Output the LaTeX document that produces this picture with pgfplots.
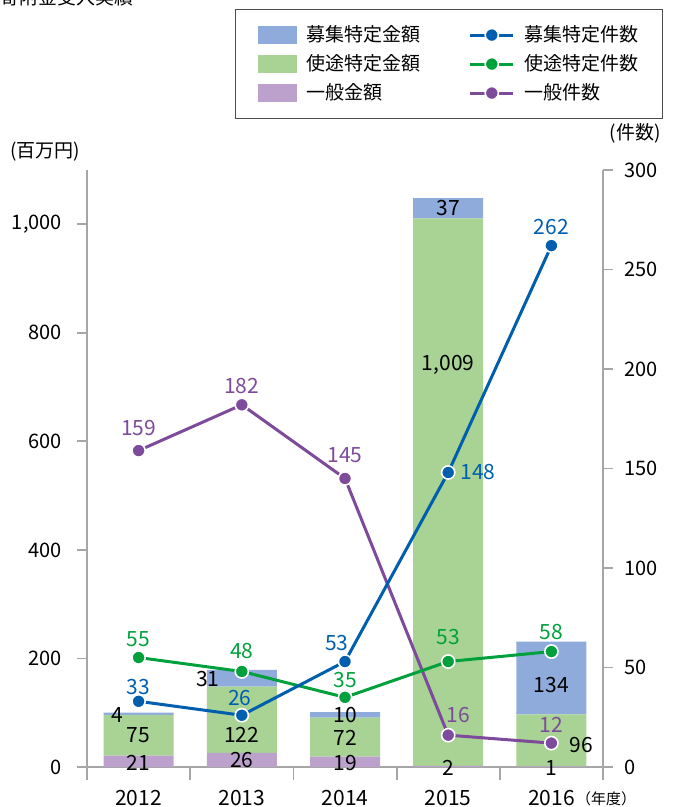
\documentclass[border=0pt]{standalone}
\usepackage{pgfplots}
\pgfplotsset{compat=1.18}
\usepackage{fontspec}
\setmainfont{Noto Sans CJK JP}
\definecolor{barblue}{HTML}{8EABDB}
\definecolor{bargreen}{HTML}{A8D394}
\definecolor{barpurple}{HTML}{BDA1CD}
\definecolor{lblue}{HTML}{005EAF}
\definecolor{lgreen}{HTML}{00A13C}
\definecolor{lpurple}{HTML}{7D4A9C}
\definecolor{axgray}{HTML}{A6A6A6}
\begin{document}
\begin{tikzpicture}[font=\fontsize{9.5}{11}\selectfont]
\useasboundingbox (0,0) rectangle (338pt,403.5pt);
\pgfplotsset{
  base/.style={
    at={(43.5pt,20pt)}, anchor=south west, scale only axis,
    width=258pt, height=298.5pt, xmin=-0.5, xmax=4.5, ymin=0,
    clip=false, tick align=outside,
    axis line style={axgray, line width=0.9pt},
    tick style={axgray, line width=0.9pt},
    major tick length=5pt, minor tick length=6.5pt,
    /pgf/number format/assume math mode=true,
    tick label style={font=\fontsize{10}{12}\selectfont, black},
  },
  lineplot/.style={#1, line width=1.5pt, mark=*, mark size=3.3pt,
    mark options={fill=#1, draw=white, line width=0.8pt}},
}
\begin{axis}[base, ymax=1100,
  axis y line*=left, axis x line*=bottom,
  ybar stacked, bar width=35pt,
  xtick={0,1,2,3,4}, xticklabels={2012,2013,2014,2015,2016},
  xticklabel style={font=\fontsize{10.5}{12}\selectfont, anchor=base, yshift=-14pt},
  major x tick style={draw=none},
  minor xtick={-0.5,0.5,1.5,2.5,3.5,4.5},
  ytick={0,200,...,1000},
  yticklabel style={xshift=-4pt},
]
\addplot[fill=barpurple, draw=none] coordinates {(0,21)(1,26)(2,19)(3,2)(4,1)};
\addplot[fill=bargreen, draw=none] coordinates {(0,75)(1,122)(2,72)(3,1009)(4,96)};
\addplot[fill=barblue, draw=none] coordinates {(0,4)(1,31)(2,10)(3,37)(4,134)};
\end{axis}
\begin{axis}[base, ymax=1100, hide axis]
\begin{scope}[font=\fontsize{10.5}{12}\selectfont]
\node at (axis cs:-0.21,96) {4};
\node at (axis cs:0,59) {75};
\node at (axis cs:0,7) {21};
\node at (axis cs:0.67,162) {31};
\node at (axis cs:1,59) {122};
\node at (axis cs:1,13) {26};
\node at (axis cs:2,96) {10};
\node at (axis cs:2,53) {72};
\node at (axis cs:2,7) {19};
\node at (axis cs:3,1030) {37};
\node at (axis cs:3,741) {1,009};
\node at (axis cs:3,-2) {2};
\node at (axis cs:4,151) {134};
\node at (axis cs:4.29,40.5) {96};
\node at (axis cs:4,-2) {1};
\end{scope}
\end{axis}
\begin{axis}[base, ymax=300,
  axis y line*=right, axis x line=none,
  ytick={0,50,...,300},
  yticklabel style={xshift=2pt},
  legend columns=2, legend cell align=left,
  legend style={at={(axis description cs:0.2868,1.2697)}, anchor=north west,
    draw=black!70, line width=0.6pt, fill=white,
    inner xsep=11pt, inner ysep=7pt, row sep=3pt,
    font=\fontsize{9.5}{11}\selectfont,
    nodes={inner sep=1pt, text depth=0.15em},
    /tikz/every odd column/.append style={column sep=4pt},
    /tikz/every even column/.append style={column sep=23pt},
  },
]
\addlegendimage{legend image code/.code={\fill[barblue] (0pt,-4pt) rectangle (19pt,4pt);}}
\addlegendentry{募集特定金額}
\addlegendimage{lineplot=lblue, legend image code/.code={\draw[mark repeat=2,mark phase=2] plot coordinates {(0pt,0pt)(10.75pt,0pt)(21.5pt,0pt)};}}
\addlegendentry{募集特定件数}
\addlegendimage{legend image code/.code={\fill[bargreen] (0pt,-4pt) rectangle (19pt,4pt);}}
\addlegendentry{使途特定金額}
\addlegendimage{lineplot=lgreen, legend image code/.code={\draw[mark repeat=2,mark phase=2] plot coordinates {(0pt,0pt)(10.75pt,0pt)(21.5pt,0pt)};}}
\addlegendentry{使途特定件数}
\addlegendimage{legend image code/.code={\fill[barpurple] (0pt,-4pt) rectangle (19pt,4pt);}}
\addlegendentry{一般金額}
\addlegendimage{lineplot=lpurple, legend image code/.code={\draw[mark repeat=2,mark phase=2] plot coordinates {(0pt,0pt)(10.75pt,0pt)(21.5pt,0pt)};}}
\addlegendentry{一般件数}
\addplot[lineplot=lpurple, forget plot] coordinates {(0,159)(1,182)(2,145)(3,16)(4,12)};
\addplot[lineplot=lgreen, forget plot] coordinates {(0,55)(1,48)(2,35)(3,53)(4,58)};
\addplot[lineplot=lblue, forget plot] coordinates {(0,33)(1,26)(2,53)(3,148)(4,262)};
\begin{scope}[font=\fontsize{10.5}{12}\selectfont]
\begin{scope}[lblue]
\node at (axis cs:0,40.2) {33};
\node at (axis cs:0.98,34.7) {26};
\node at (axis cs:1.92,62.3) {53};
\node at (axis cs:3.29,148.2) {148};
\node at (axis cs:4,271.4) {262};
\end{scope}
\begin{scope}[lgreen]
\node at (axis cs:0,64.3) {55};
\node at (axis cs:1,58.3) {48};
\node at (axis cs:2,43.7) {35};
\node at (axis cs:3,65.3) {53};
\node at (axis cs:4,67.8) {58};
\end{scope}
\begin{scope}[lpurple]
\node at (axis cs:0,170.4) {159};
\node at (axis cs:1,191.5) {182};
\node at (axis cs:2,156.8) {145};
\node at (axis cs:3.1,26.1) {16};
\node at (axis cs:4,21.1) {12};
\end{scope}
\end{scope}
\end{axis}
\node at (22.5pt,327.5pt) {(百万円)};
\node at (317.5pt,337pt) {(件数)};
\node[font=\fontsize{7.5}{9}\selectfont, anchor=base, inner sep=0pt] at (303pt,1.5pt) {（年度）};
\node[anchor=base west, inner sep=0pt] at (0pt,401pt) {寄附金受入実績};
\end{tikzpicture}
\end{document}
